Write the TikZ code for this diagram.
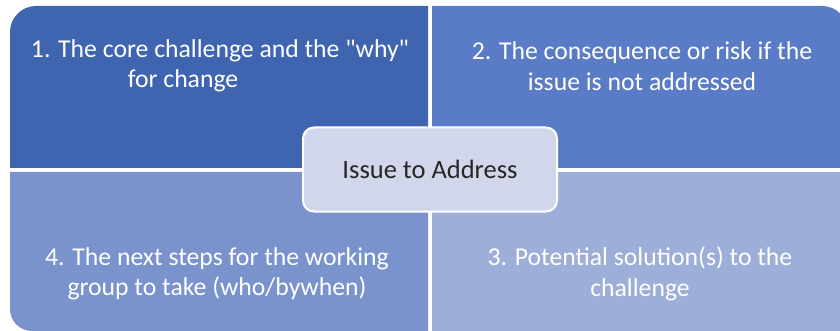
\documentclass[tikz,border=0pt]{standalone}
\usepackage{fontspec}
\setmainfont{Carlito}
\begin{document}
\begin{tikzpicture}[x=1pt,y=-1pt,
  qtext/.style={text=white,align=center,font=\fontsize{25.7}{30.5}\selectfont,inner sep=0pt},
  hub/.style={draw=white,line width=2pt,fill=hubfill,rounded corners=11pt,
    minimum width=254pt,minimum height=84pt,text=black!85,font=\fontsize{26.5}{30}\selectfont}]
\definecolor{qone}{HTML}{3F65B0}
\definecolor{qtwo}{HTML}{5A7BC5}
\definecolor{qthree}{HTML}{9DAED9}
\definecolor{qfour}{HTML}{7A93CD}
\definecolor{hubfill}{HTML}{D1D6EA}
\useasboundingbox (0,0) rectangle (840,331);
\begin{scope}
\clip (0,0) rectangle (840,331);
% four quadrants, each rounded at its outer corner (y axis points down)
\fill[qone] (428,168) -- (428,6) -- (36,6) arc[start angle=270,end angle=180,radius=26] -- (10,168) -- cycle;
\fill[qtwo] (432,168) -- (432,6) -- (822,6) arc[start angle=270,end angle=360,radius=26] -- (848,168) -- cycle;
\fill[qfour] (428,172) -- (428,331) -- (32,331) arc[start angle=90,end angle=180,radius=22] -- (10,172) -- cycle;
\fill[qthree] (432,172) -- (432,345) -- (848,345) -- (848,172) -- cycle;
\end{scope}
% quadrant captions
\node[qtext] (t1) at (220,66) {1. The core challenge and the \textquotedbl why\textquotedbl\\for change\hspace*{74pt}};
\node[qtext] (t2) at (642,66) {2. The consequence or risk if the\\issue is not addressed};
\node[qtext] (t4) at (217,274) {4. The next steps for the working\\group to take (who/bywhen)};
\node[qtext] (t3) at (640,274) {3. Potential solution(s) to the\\challenge};
% central hub
\node[hub] (hub) at (430,169.5) {Issue to Address};
\end{tikzpicture}
\end{document}
